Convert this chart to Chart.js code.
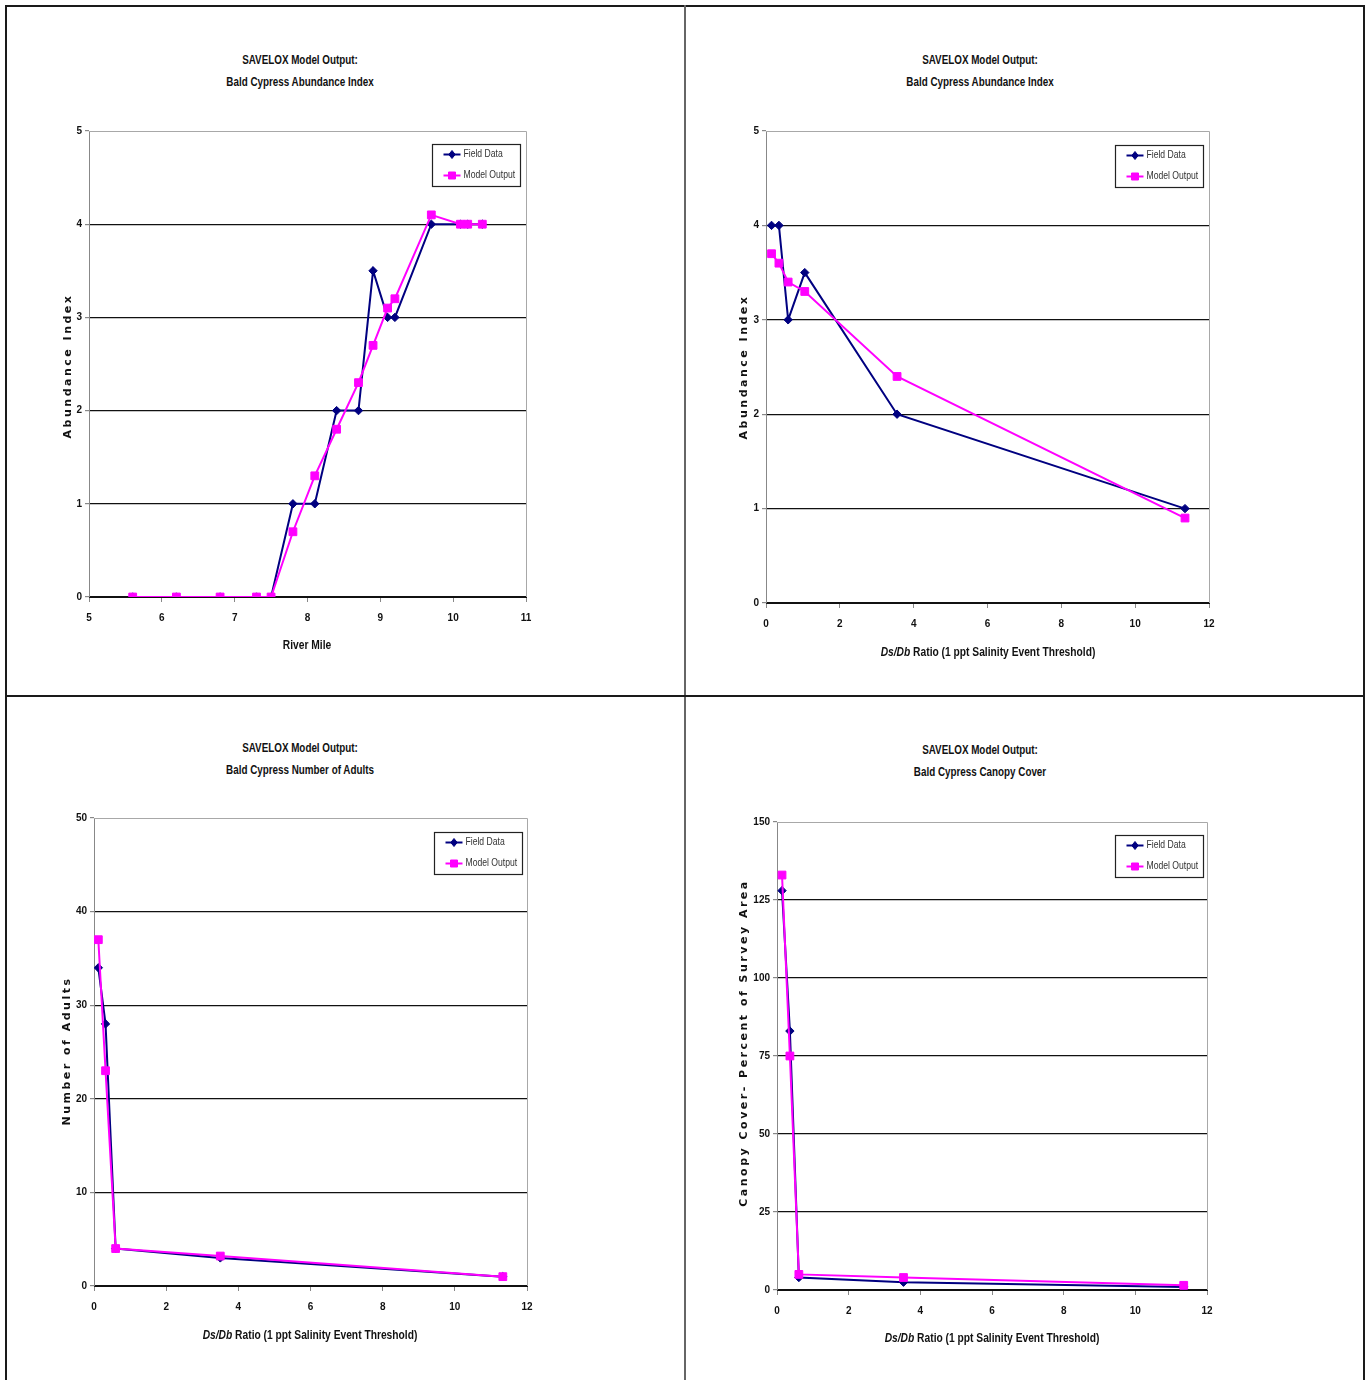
<!DOCTYPE html>
<html><head><meta charset="utf-8">
<script src="https://cdn.jsdelivr.net/npm/chart.js@4.4.0/dist/chart.umd.min.js"></script>
<style>
body{margin:0;background:#fff;}
#page{position:relative;width:1366px;height:1380px;overflow:hidden;background:#fff;font-family:'Liberation Sans',Arial,sans-serif;color:#111;}
.ln{position:absolute;background:#1a1a1a;}
canvas{position:absolute;}
.title{position:absolute;text-align:center;font-weight:bold;font-size:12px;line-height:22px;transform:translateX(-50%) scaleX(0.82);white-space:nowrap;z-index:5;}
.xt{position:absolute;font-weight:bold;font-size:12.5px;transform:translate(-50%,-50%) scaleX(0.82);white-space:nowrap;z-index:5;}
.yt{position:absolute;font-family:'DejaVu Sans',sans-serif;font-weight:bold;font-size:11px;letter-spacing:2.5px;transform:translate(-50%,-50%) rotate(-90deg);white-space:nowrap;z-index:5;}
</style></head>
<body>
<div id="page">
  <div class="ln" style="left:5px;top:5px;width:2px;height:1375px;"></div>
  <div class="ln" style="left:5px;top:5px;width:1360px;height:2px;"></div>
  <div class="ln" style="left:1363px;top:5px;width:2px;height:1375px;"></div>
  <div class="ln" style="left:684px;top:5px;width:2px;height:1375px;background:#666;"></div>
  <div class="ln" style="left:5px;top:695px;width:1360px;height:2px;"></div>

  <canvas id="c1" width="540" height="560" style="left:20px;top:110px;"></canvas>
  <canvas id="c2" width="540" height="560" style="left:700px;top:110px;"></canvas>
  <canvas id="c3" width="540" height="560" style="left:20px;top:800px;"></canvas>
  <canvas id="c4" width="540" height="560" style="left:700px;top:800px;"></canvas>

  <div class="title" style="left:300px;top:49px;">SAVELOX Model Output:<br>Bald Cypress Abundance Index</div>
  <div class="title" style="left:980px;top:49px;">SAVELOX Model Output:<br>Bald Cypress Abundance Index</div>
  <div class="title" style="left:300px;top:737px;">SAVELOX Model Output:<br>Bald Cypress Number of Adults</div>
  <div class="title" style="left:980px;top:739px;">SAVELOX Model Output:<br>Bald Cypress Canopy Cover</div>

  <div class="xt" style="left:307px;top:645px;">River Mile</div>
  <div class="xt" style="left:988px;top:652px;"><i>Ds/Db</i> Ratio (1 ppt Salinity Event Threshold)</div>
  <div class="xt" style="left:310px;top:1335px;"><i>Ds/Db</i> Ratio (1 ppt Salinity Event Threshold)</div>
  <div class="xt" style="left:992px;top:1338px;"><i>Ds/Db</i> Ratio (1 ppt Salinity Event Threshold)</div>

  <div class="yt" style="left:67px;top:366px;">Abundance Index</div>
  <div class="yt" style="left:743px;top:367px;">Abundance Index</div>
  <div class="yt" style="left:66px;top:1051px;">Number of Adults</div>
  <div class="yt" style="left:743px;top:1043px;">Canopy Cover- Percent of Survey Area</div>
</div>
<script>
// ---- data ----
const seriesNames = ['Field Data', 'Model Output'];

const riverMile = [5.6, 6.2, 6.8, 7.3, 7.5, 7.8, 8.1, 8.4, 8.7, 8.9, 9.1, 9.2, 9.7, 10.1, 10.2, 10.4];
const abundFieldByMile = [0, 0, 0, 0, 0, 1, 1, 2, 2, 3.5, 3, 3, 4, 4, 4, 4];
const abundModelByMile = [0, 0, 0, 0, 0, 0.7, 1.3, 1.8, 2.3, 2.7, 3.1, 3.2, 4.1, 4, 4, 4];

const ratioAbund = [0.15, 0.35, 0.6, 1.05, 3.55, 11.35];
const abundFieldByRatio = [4, 4, 3, 3.5, 2, 1];
const abundModelByRatio = [3.7, 3.6, 3.4, 3.3, 2.4, 0.9];

const ratioAdults = [0.12, 0.32, 0.6, 3.5, 11.33];
const adultsField = [34, 28, 4, 3, 1];
const adultsModel = [37, 23, 4, 3.2, 1];

const ratioCanopy = [0.14, 0.36, 0.61, 3.53, 11.35];
const canopyField = [128, 83, 4, 2.5, 1];
const canopyModel = [133, 75, 5, 4, 1.5];

// ---- styling ----
const TICK_FAMILY = "'Liberation Sans',Arial,sans-serif";
const NAVY = '#000080', MAG = '#ff00ff';

function pts(xs, ys) { return xs.map((x, i) => ({ x: x, y: ys[i] })); }

const plotFrame = {
  id: 'plotFrame',
  beforeDatasetsDraw(chart) {
    const { ctx, chartArea: a } = chart;
    ctx.save();
    ctx.strokeStyle = '#a8a8a8';
    ctx.lineWidth = 1;
    ctx.beginPath();
    ctx.moveTo(a.left, Math.round(a.top) + 0.5);
    ctx.lineTo(Math.round(a.right) + 0.5, Math.round(a.top) + 0.5);
    ctx.lineTo(Math.round(a.right) + 0.5, a.bottom);
    ctx.stroke();
    ctx.restore();
  }
};

function marker(ctx, style, x, y, r) {
  ctx.beginPath();
  if (style === 'rectRot') {
    ctx.moveTo(x, y - r); ctx.lineTo(x + r * 0.8, y); ctx.lineTo(x, y + r); ctx.lineTo(x - r * 0.8, y); ctx.closePath();
  } else {
    ctx.rect(x - r, y - r, 2 * r, 2 * r);
  }
  ctx.fill(); ctx.stroke();
}

const boxLegend = {
  id: 'boxLegend',
  afterDraw(chart, args, opts) {
    const { ctx, chartArea: a } = chart;
    const w = 88, h = 42;
    const x0 = Math.round(a.right - opts.right - w) + 0.5;
    const y0 = Math.round(a.top + opts.top) + 0.5;
    ctx.save();
    ctx.fillStyle = '#fff';
    ctx.fillRect(x0, y0, w, h);
    ctx.strokeStyle = '#222';
    ctx.lineWidth = 1.2;
    ctx.strokeRect(x0, y0, w, h);
    chart.data.datasets.forEach((ds, i) => {
      const yy = y0 + 10 + i * 21;
      ctx.strokeStyle = ds.borderColor;
      ctx.lineWidth = 2;
      ctx.beginPath(); ctx.moveTo(x0 + 11, yy); ctx.lineTo(x0 + 28, yy); ctx.stroke();
      ctx.fillStyle = ds.backgroundColor; ctx.lineWidth = 1;
      marker(ctx, ds.pointStyle, x0 + 19.5, yy, ds.pointStyle === 'rectRot' ? 4 : 3.5);
      ctx.save();
      ctx.translate(x0 + 31, yy);
      ctx.scale(0.82, 1);
      ctx.fillStyle = '#333';
      ctx.font = '10.5px ' + TICK_FAMILY;
      ctx.textBaseline = 'middle';
      ctx.fillText(ds.label, 0, 0);
      ctx.restore();
    });
    ctx.restore();
  }
};

function makeChart(id, canvasBox, plot, xs, field, model, xr, yr, leg) {
  const tickFont = { family: TICK_FAMILY, size: 10, weight: 'bold' };
  new Chart(document.getElementById(id), {
    type: 'scatter',
    data: {
      datasets: [
        { label: seriesNames[0], data: pts(xs, field), showLine: true, borderColor: NAVY, backgroundColor: NAVY,
          borderWidth: 2, pointStyle: 'rectRot', pointRadius: 4.2, pointBorderWidth: 1, tension: 0, order: 1 },
        { label: seriesNames[1], data: pts(xs, model), showLine: true, borderColor: MAG, backgroundColor: MAG,
          borderWidth: 2, pointStyle: 'rect', pointRadius: 5.5, pointBorderWidth: 1, tension: 0, order: 0 }
      ]
    },
    options: {
      responsive: false, animation: false, devicePixelRatio: 1,
      layout: { padding: { top: plot.T - canvasBox.y, right: canvasBox.x + canvasBox.w - plot.R, left: 0, bottom: 0 } },
      plugins: { legend: { display: false }, tooltip: { enabled: false }, boxLegend: leg },
      scales: {
        x: {
          type: 'linear', min: xr[0], max: xr[1],
          ticks: { stepSize: xr[2], autoSkip: false, maxRotation: 0, font: tickFont, color: '#111', padding: 10 },
          grid: { drawOnChartArea: false, drawTicks: true, tickLength: 5, tickColor: '#888' },
          border: { color: '#111', width: 1 },
          afterFit(s) { s.height = canvasBox.y + canvasBox.h - plot.B; }
        },
        y: {
          type: 'linear', min: yr[0], max: yr[1],
          ticks: { stepSize: yr[2], font: tickFont, color: '#111', padding: 3 },
          grid: { color: c => (c.tick && c.tick.value === yr[1]) ? 'rgba(0,0,0,0)' : '#111', lineWidth: 1.2, tickColor: '#888', tickLength: 4 },
          border: { color: '#888', width: 1 },
          afterFit(s) { s.width = plot.L - canvasBox.x; }
        }
      }
    },
    plugins: [plotFrame, boxLegend]
  });
}

makeChart('c1', { x: 20, y: 110, w: 540, h: 560 }, { L: 89, R: 526, T: 131, B: 597 },
  riverMile, abundFieldByMile, abundModelByMile, [5, 11, 1], [0, 5, 1], { right: 6, top: 13 });
makeChart('c2', { x: 700, y: 110, w: 540, h: 560 }, { L: 766, R: 1209, T: 131, B: 603 },
  ratioAbund, abundFieldByRatio, abundModelByRatio, [0, 12, 2], [0, 5, 1], { right: 6, top: 14 });
makeChart('c3', { x: 20, y: 800, w: 540, h: 560 }, { L: 94, R: 527, T: 818, B: 1286 },
  ratioAdults, adultsField, adultsModel, [0, 12, 2], [0, 50, 10], { right: 5, top: 14 });
makeChart('c4', { x: 700, y: 800, w: 540, h: 560 }, { L: 777, R: 1207, T: 822, B: 1290 },
  ratioCanopy, canopyField, canopyModel, [0, 12, 2], [0, 150, 25], { right: 4, top: 13 });
</script>
</body></html>
